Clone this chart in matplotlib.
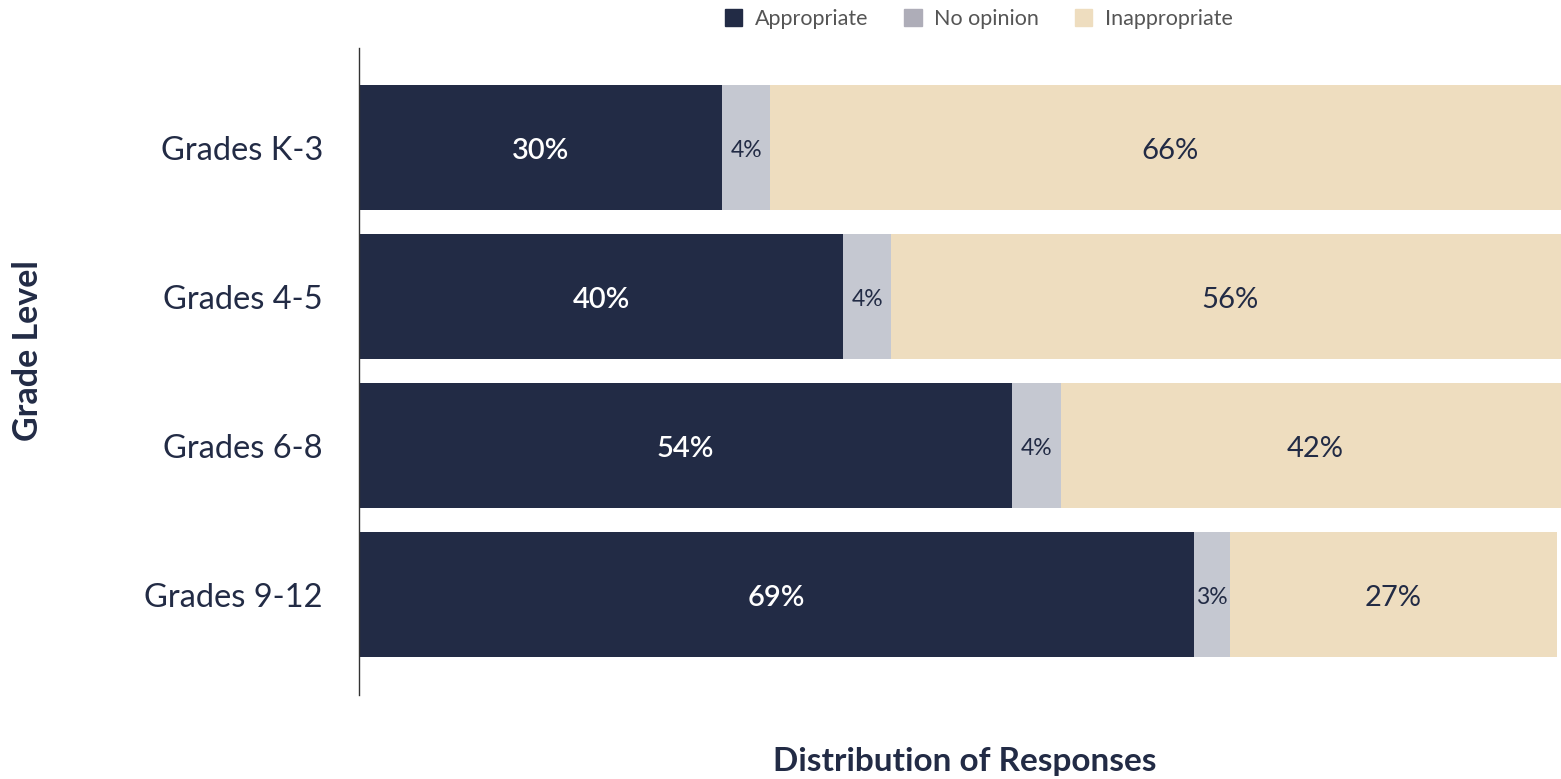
import numpy as np
import matplotlib.pyplot as plt
from matplotlib.patches import Patch

plt.rcParams['font.family'] = ['Lato', 'DejaVu Sans']

# data
grades = ['Grades K-3', 'Grades 4-5', 'Grades 6-8', 'Grades 9-12']
appropriate = [30, 40, 54, 69]
no_opinion = [4, 4, 4, 3]
inappropriate = [66, 56, 42, 27]

navy = '#222b45'
grey = '#c5c8d1'
tan = '#eeddbf'

fig = plt.figure(figsize=(15.61, 7.79), dpi=100)
ax = fig.add_axes([359 / 1561, 1 - 695 / 779, (1569 - 359) / 1561, 647 / 779])

y = np.arange(len(grades))
h = 0.84
left = np.zeros(len(grades))
series = [(appropriate, navy, 'white', 21, 'semibold'),
          (no_opinion, grey, navy, 16.5, 'normal'),
          (inappropriate, tan, navy, 21, 'normal')]
for vals, col, tcol, fs, fw in series:
    vals = np.array(vals)
    ax.barh(y, vals, left=left, height=h, color=col, edgecolor='none')
    for yi, l, v in zip(y, left, vals):
        ax.text(l + v / 2, yi + 0.02, f'{v}%', ha='center', va='center',
                color=tcol, fontsize=fs, fontweight=fw)
    left = left + vals

ax.set_xlim(0, 100)
ax.set_ylim(len(grades) - 1 + 0.674, -0.668)
ax.set_yticks(y)
ax.set_yticklabels(grades, fontsize=23.5, color=navy)
ax.tick_params(axis='y', length=0, pad=26)
ax.set_xticks([])
for s in ['top', 'right', 'bottom']:
    ax.spines[s].set_visible(False)
ax.spines['left'].set_color('#333333')
ax.spines['left'].set_linewidth(1.0)

fig.text(28 / 1561, 1 - 351 / 779, 'Grade Level', rotation=90, ha='center', va='center',
         fontsize=24.5, fontweight='bold', color=navy)
fig.text(965 / 1561, 1 - 762 / 779, 'Distribution of Responses', ha='center', va='center',
         fontsize=24, fontweight='bold', color=navy)

handles = [Patch(color=navy, label='Appropriate'),
           Patch(color='#aeadb8', label='No opinion'),
           Patch(color=tan, label='Inappropriate')]
leg = fig.legend(handles=handles, loc='center', bbox_to_anchor=(979 / 1561, 1 - 19 / 779),
                 ncol=3, frameon=False, fontsize=15.5, handlelength=0.8, handleheight=0.8,
                 handletextpad=0.6, columnspacing=1.65)
for t in leg.get_texts():
    t.set_color('#555555')

fig.savefig('out.png', dpi=100)
